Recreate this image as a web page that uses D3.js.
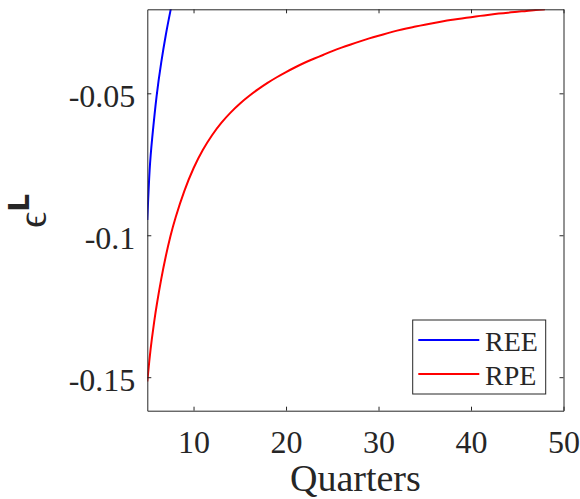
<!DOCTYPE html>
<html>
<head>
<meta charset="utf-8">
<script src="https://cdn.jsdelivr.net/npm/d3@7"></script>
<style>
  body { margin: 0; background: #fff; }
  text { font-family: "Liberation Serif", "Times New Roman", serif; fill: #262626; }
</style>
</head>
<body>
<div id="chart"></div>
<script>
// Chart data
const rpeQuarters = [5, 5.25, 5.5, 5.75, 6, 6.5, 7, 7.5, 8, 9, 10, 11, 12, 13, 14, 15, 16, 17, 18, 19, 20,
    21, 22, 23, 24, 25, 26, 27, 28, 29, 30, 31, 32, 33, 34, 35, 36, 37, 38, 39, 40,
    41, 42, 43, 44, 45, 46, 47, 48];
const rpeValues = [-0.1515, -0.1430, -0.1362, -0.1302, -0.1248, -0.1153, -0.1072, -0.1002, -0.0941, -0.0841, -0.0761,
    -0.0698, -0.0646, -0.0603, -0.0567, -0.0536, -0.0509, -0.0485, -0.0463, -0.0443, -0.0425,
    -0.0408, -0.0392, -0.0378, -0.0365, -0.0351, -0.0339, -0.0328, -0.0317, -0.0306, -0.0297,
    -0.0288, -0.0279, -0.0271, -0.0265, -0.0258, -0.0252, -0.0246, -0.0241, -0.0236, -0.0232,
    -0.0227, -0.0223, -0.0219, -0.0216, -0.0212, -0.0210, -0.0206, -0.0204];

const reeQuarters = [5, 5.25, 5.5, 6, 6.5, 7, 7.5, 8];
const reeValues = [-0.0946, -0.0755, -0.0666, -0.0503, -0.0390, -0.0292, -0.0209, -0.0130];

const xTicks = [10, 20, 30, 40, 50];
const yTicks = [-0.15, -0.1, -0.05];
const yTickLabels = ["-0.15", "-0.1", "-0.05"];

const seriesNames = ["REE", "RPE"];
const seriesColors = ["#0000ff", "#ff0000"];

const width = 580, height = 499;
const margin = { top: 9.3, right: 16.5, bottom: 88.3, left: 147.3 };
const innerW = width - margin.left - margin.right;
const innerH = height - margin.top - margin.bottom;

const svg = d3.select("#chart").append("svg")
    .attr("width", width)
    .attr("height", height);

const g = svg.append("g")
    .attr("transform", `translate(${margin.left},${margin.top})`);

const x = d3.scaleLinear().domain([5, 50]).range([0, innerW]);
const y = d3.scaleLinear().domain([-0.1618, -0.0204]).range([innerH, 0]);

// clip to the axes box
svg.append("defs").append("clipPath").attr("id", "clip")
    .append("rect").attr("width", innerW).attr("height", innerH);

const line = d3.line()
    .x(d => x(d[0]))
    .y(d => y(d[1]))
    .curve(d3.curveBasis);

const series = [
    d3.zip(reeQuarters, reeValues),
    d3.zip(rpeQuarters, rpeValues)
];

g.append("g").attr("clip-path", "url(#clip)")
    .selectAll("path")
    .data(series)
    .enter().append("path")
    .attr("d", line)
    .attr("fill", "none")
    .attr("stroke", (d, i) => seriesColors[i])
    .attr("stroke-width", 2);

// axes (ticks point inward, box on all four sides)
const axisColor = "#262626";

const xAxis = g.append("g")
    .attr("transform", `translate(0,${innerH})`)
    .call(d3.axisBottom(x).tickValues(xTicks).tickSizeInner(-4).tickSizeOuter(0));
xAxis.selectAll("text")
    .attr("y", 42.6)
    .attr("dy", 0)
    .style("font-size", "32px")
    .style("font-family", "'Liberation Serif', serif");

const yAxis = g.append("g")
    .call(d3.axisLeft(y).tickValues(yTicks).tickFormat((d, i) => yTickLabels[i]).tickSizeInner(-4).tickSizeOuter(0));
yAxis.selectAll("text")
    .attr("x", -12)
    .attr("dy", 0)
    .attr("y", 13)
    .style("font-size", "32px")
    .style("font-family", "'Liberation Serif', serif");

g.append("g")
    .call(d3.axisTop(x).tickValues(xTicks).tickSizeInner(-4).tickSizeOuter(0).tickFormat(""));
g.append("g")
    .attr("transform", `translate(${innerW},0)`)
    .call(d3.axisRight(y).tickValues(yTicks).tickSizeInner(-4).tickSizeOuter(0).tickFormat(""));

g.selectAll(".domain").attr("stroke", axisColor).attr("stroke-width", 1);
g.selectAll(".tick line").attr("stroke", axisColor).attr("stroke-width", 1);
g.selectAll(".tick text").attr("fill", axisColor);

// axis labels
svg.append("text")
    .attr("x", margin.left + innerW / 2)
    .attr("y", 491)
    .attr("text-anchor", "middle")
    .style("font-size", "38px")
    .text("Quarters");

const yLab = svg.append("text")
    .attr("transform", "translate(46,228) rotate(-90)")
    .style("font-size", "40px");
yLab.append("tspan").text("\u03F5");
yLab.append("tspan")
    .attr("dy", -17)
    .style("font-size", "28px")
    .style("font-family", "'DejaVu Sans', sans-serif")
    .style("font-weight", "bold")
    .text("L");

// legend
const legend = svg.append("g");
legend.append("rect")
    .attr("x", 412.7).attr("y", 320)
    .attr("width", 133).attr("height", 74)
    .attr("fill", "#fff")
    .attr("stroke", axisColor)
    .attr("stroke-width", 1);

seriesNames.forEach((name, i) => {
    const ly = 340 + i * 34;
    legend.append("line")
        .attr("x1", 418.3).attr("x2", 479.3)
        .attr("y1", ly).attr("y2", ly)
        .attr("stroke", seriesColors[i])
        .attr("stroke-width", 2);
    legend.append("text")
        .attr("x", 485)
        .attr("y", ly + 10.5)
        .style("font-size", "28px")
        .text(name);
});
</script>
</body>
</html>
